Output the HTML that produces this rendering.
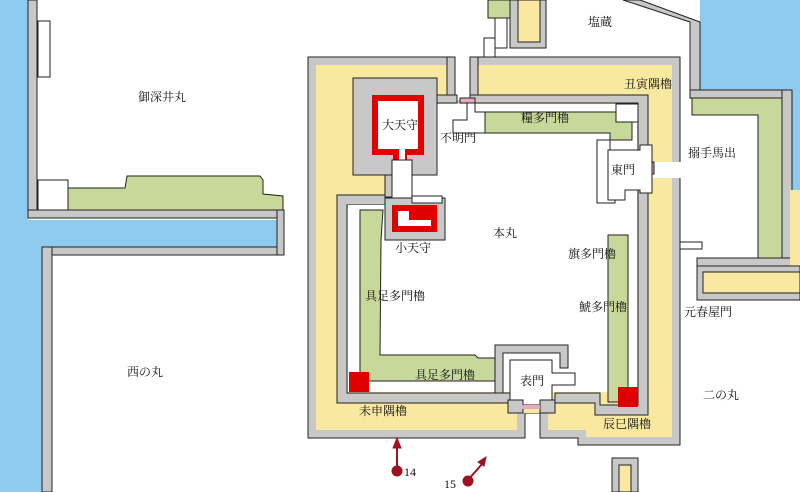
<!DOCTYPE html>
<html><head><meta charset="utf-8">
<style>
html,body{margin:0;padding:0;background:#fff;}
svg{display:block;}
text{font-family:"Liberation Serif","Noto Serif CJK SC","Noto Sans CJK JP",serif;font-size:12px;fill:#111;}
</style></head><body>
<svg width="800" height="492" viewBox="0 0 800 492" xmlns="http://www.w3.org/2000/svg">
<g stroke="#222" stroke-width="1">
<rect x="0" y="0" width="28" height="492" fill="#8ecbef" stroke="none"/>
<rect x="28" y="220" width="256" height="27" fill="#8ecbef" stroke="none"/>
<rect x="28" y="247" width="14" height="245" fill="#8ecbef" stroke="none"/>
<rect x="28" y="0" width="9" height="218" fill="#c8c8c8"/>
<rect x="38" y="21" width="12" height="56" fill="#fff"/>
<path d="M68 188 L125 188 L127 176 L260 176 L263 180 L263 194 L283 196 L283 210 L68 210 Z" fill="#c8d89a"/>
<rect x="38" y="180" width="30" height="30" fill="#fff"/>
<rect x="28" y="210" width="256" height="8" fill="#c8c8c8"/>
<rect x="42" y="247" width="242" height="8" fill="#c8c8c8"/>
<rect x="42" y="247" width="10" height="245" fill="#c8c8c8"/>
<rect x="277" y="210" width="7" height="45" fill="#c8c8c8"/>

<rect x="488" y="0" width="22" height="18" fill="#c8d89a"/>
<rect x="495" y="18" width="12" height="30" fill="#fff"/>
<rect x="510" y="0" width="36" height="48" fill="#c8c8c8"/>
<rect x="518" y="0" width="22" height="42" fill="#f8e8a0"/>
<rect x="484" y="38" width="11" height="20" fill="#fff"/>

<path d="M700 0 L800 0 L800 190 L792 190 L792 90 L700 90 L700 22 Z" fill="#8ecbef" stroke="none"/>
<path d="M623 0 L640 0 L700 22 L700 90 L690 98 L690 22 Z" fill="#c8c8c8"/>
<rect x="690" y="90" width="102" height="8" fill="#c8c8c8"/>
<rect x="782" y="90" width="10" height="180" fill="#c8c8c8"/>
<path d="M692 98 L782 98 L782 258 L758 258 L758 115 L692 115 Z" fill="#c8d89a"/>
<rect x="697" y="258" width="95" height="8" fill="#c8c8c8"/>
<rect x="790" y="190" width="10" height="110" fill="#f8e8a0" stroke="none"/>
<rect x="697" y="266" width="103" height="34" fill="#c8c8c8"/>
<rect x="703" y="272" width="97" height="21" fill="#f8e8a0"/>
<rect x="680" y="242" width="22" height="7" fill="#fff"/>

<path d="M308 57 L680 57 L680 445 L578 445 L578 438 L540 438 L540 413 L525 413 L525 438 L308 438 Z" fill="#c8c8c8"/>
<path d="M316 65 L447 65 L447 103 L470 103 L470 65 L672 65 L672 437 L586 437 L586 430 L548 430 L548 413 L517 413 L517 430 L316 430 Z" fill="#f8e8a0" stroke="none"/>
<rect x="455" y="50" width="15" height="50" fill="#fff" stroke="none"/>
<rect x="647" y="162" width="34" height="16" fill="#fff" stroke="none"/>
<path d="M447 57 L455 57 L455 103 L447 103 Z" fill="#c8c8c8"/>
<path d="M470 57 L478 57 L478 103 L470 103 Z" fill="#c8c8c8"/>
<path d="M337 195 L385 195 L385 205 L347 205 L347 393 L510 393 L510 403 L337 403 Z" fill="#c8c8c8"/>
<path d="M470 95 L648 95 L648 160 L638 160 L638 103 L470 103 Z" fill="#c8c8c8"/>
<path d="M555 393 L600 393 L600 405 L638 405 L638 180 L648 180 L648 415 L595 415 L595 403 L555 403 Z" fill="#c8c8c8"/>
<rect x="460" y="98" width="15" height="5" fill="#e8a8c0"/>
<rect x="648" y="162" width="6" height="12" fill="#e8a8c0"/>
<rect x="348" y="205" width="289" height="187" fill="#fff" stroke="none"/>
<rect x="478" y="104" width="159" height="102" fill="#fff" stroke="none"/>
<rect x="412" y="104" width="66" height="102" fill="#fff" stroke="none"/>

<rect x="353" y="78" width="84" height="97" fill="#c8c8c8"/>
<path d="M372 95 L424 95 L424 155 L407 155 L407 161 L393 161 L393 155 L372 155 Z" fill="#e00000" stroke="none"/>
<rect x="378" y="101" width="40" height="48" fill="#fff" stroke="none"/>
<rect x="399" y="149" width="6" height="14" fill="#fff" stroke="none"/>
<rect x="385" y="175" width="7" height="22" fill="#c8c8c8"/>
<rect x="392" y="160" width="20" height="45" fill="#fff"/>
<rect x="437" y="95" width="20" height="8" fill="#c8c8c8"/>
<rect x="385" y="198" width="60" height="42" fill="#c8c8c8"/>
<path d="M392 205 L437 205 L437 232 L392 232 Z" fill="#e00000" stroke="none"/>
<path d="M398 211 L409 211 L409 220 L431 220 L431 226 L398 226 Z" fill="#fff" stroke="none"/>
<rect x="412" y="196" width="30" height="7" fill="#fff"/>
<path d="M467 103 L467 120 L453 120 L453 133 L487 133 L487 112 L475 112 L475 103 Z" fill="#fff"/>

<path d="M485 112 L616 112 L616 106 L632 106 L632 140 L610 140 L610 133 L485 133 Z" fill="#c8d89a"/>
<rect x="616" y="104" width="22" height="18" fill="#fff"/>
<path d="M597 140 L610 140 L610 158 L615 158 L615 203 L597 203 Z" fill="#fff"/>
<path d="M360 210 L383 210 L381 240 L380 355 L475 355 L478 358 L495 358 L495 381 L360 381 Z" fill="#c8d89a"/>
<path d="M608 235 L628 235 L628 402 L608 402 Z" fill="#c8d89a"/>
<rect x="349" y="372" width="20" height="20" fill="#e00000" stroke="none"/>
<rect x="618" y="387" width="20" height="20" fill="#e00000" stroke="none"/>

<path d="M608 150 L640 150 L640 145 L652 145 L652 193 L640 193 L640 190 L625 190 L625 200 L608 200 Z" fill="#fff"/>
<path d="M495 345 L568 345 L568 368 L560 368 L560 353 L503 353 L503 393 L495 393 Z" fill="#c8c8c8"/>
<path d="M510 360 L552 360 L552 373 L575 373 L575 385 L552 385 L552 405 L510 405 Z" fill="#fff"/>
<rect x="508" y="400" width="15" height="13" fill="#c8c8c8"/>
<rect x="540" y="400" width="15" height="13" fill="#c8c8c8"/>
<rect x="522" y="405" width="18" height="4" fill="#e8a8c0" stroke="none"/>

<rect x="612" y="458" width="26" height="34" fill="#c8c8c8"/>
<rect x="619" y="465" width="12" height="27" fill="#f8e8a0"/>
</g>

<g stroke="#a01020" fill="#a01020">
<line x1="397" y1="470" x2="397" y2="446" stroke-width="2"/>
<path d="M393 448 L397 438 L401 448 Z"/>
<circle cx="397" cy="471" r="5"/>
<line x1="468" y1="480" x2="482" y2="464" stroke-width="2"/>
<path d="M478 462 L486 457 L484 466 Z"/>
<circle cx="468" cy="481" r="5"/>
</g>

<g>
<text x="162" y="101" text-anchor="middle">御深井丸</text>
<text x="600" y="26" text-anchor="middle">塩蔵</text>
<text x="648" y="88" text-anchor="middle">丑寅隅櫓</text>
<text x="545" y="122" text-anchor="middle">糧多門櫓</text>
<text x="458" y="142" text-anchor="middle">不明門</text>
<text x="623" y="174" text-anchor="middle">東門</text>
<text x="712" y="157" text-anchor="middle">搦手馬出</text>
<text x="400" y="129" text-anchor="middle">大天守</text>
<text x="505" y="237" text-anchor="middle">本丸</text>
<text x="413" y="252" text-anchor="middle">小天守</text>
<text x="592" y="258" text-anchor="middle">旗多門櫓</text>
<text x="395" y="300" text-anchor="middle">具足多門櫓</text>
<text x="603" y="311" text-anchor="middle">鯱多門櫓</text>
<text x="708" y="316" text-anchor="middle">元春屋門</text>
<text x="145" y="376" text-anchor="middle">西の丸</text>
<text x="721" y="399" text-anchor="middle">二の丸</text>
<text x="445" y="379" text-anchor="middle">具足多門櫓</text>
<text x="532" y="385" text-anchor="middle">表門</text>
<text x="383" y="415" text-anchor="middle">未申隅櫓</text>
<text x="627" y="428" text-anchor="middle">辰巳隅櫓</text>
<text x="404" y="476">14</text>
<text x="444" y="488">15</text>
</g>
</svg>
</body></html>
